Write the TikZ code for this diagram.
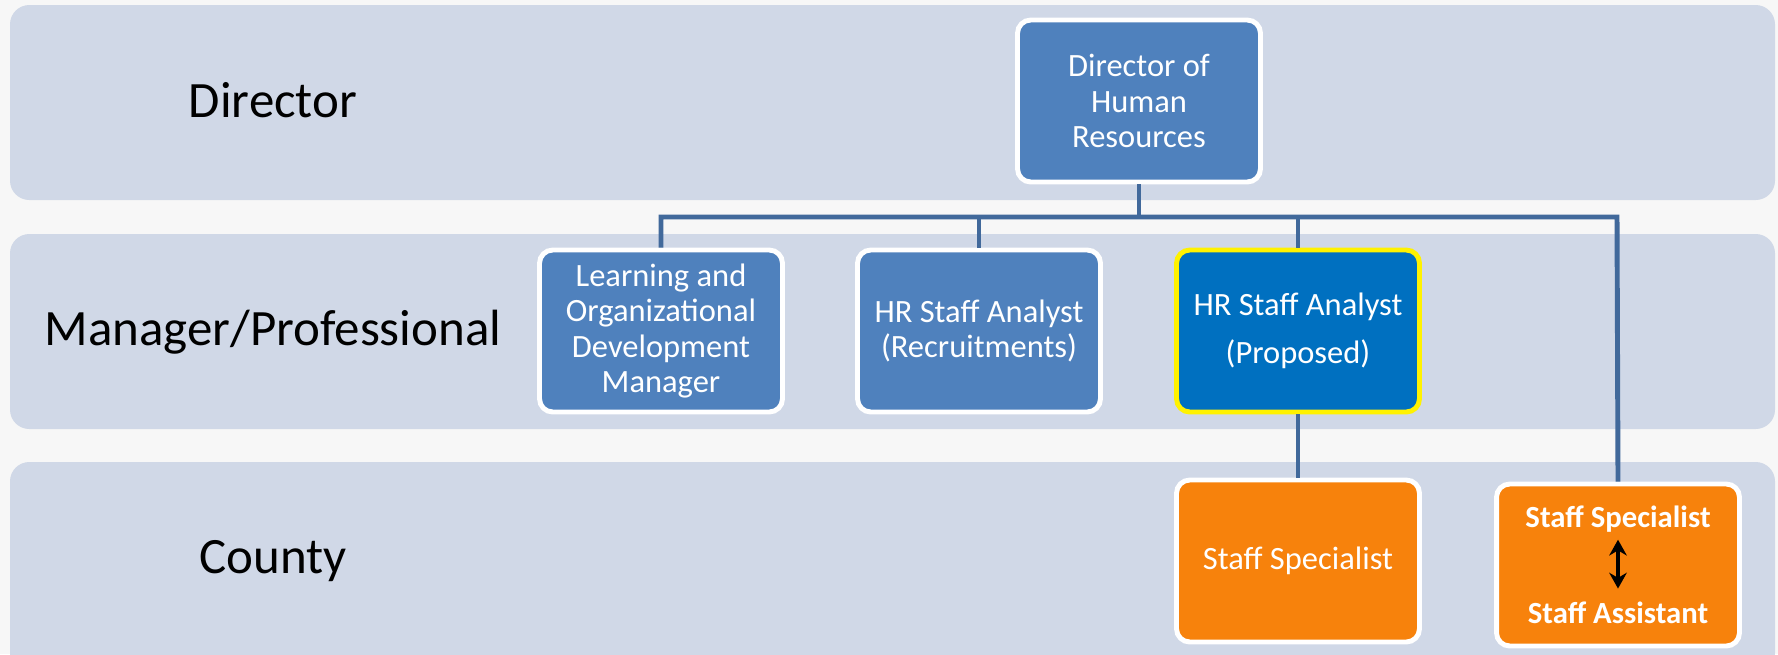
\documentclass[tikz,border=0pt]{standalone}
\usepackage{fontspec}
\setmainfont{Carlito}
\usetikzlibrary{arrows.meta}
\definecolor{fondBande}{HTML}{D0D8E7}
\definecolor{bleuPoste}{HTML}{4F81BD}
\definecolor{bleuPropose}{HTML}{0070C0}
\definecolor{orangeComte}{HTML}{F7820C}
\definecolor{bleuLien}{HTML}{41699B}

\begin{document}
\begin{tikzpicture}[x=0.02cm,y=-0.02cm,
  poste/.style={draw=white, line width=2.8pt, rounded corners=7.5pt, fill=bleuPoste,
    text=white, align=center, inner sep=0pt, minimum width=4.86cm, minimum height=3.24cm,
    font=\fontsize{18.5}{20}\selectfont},
  lien/.style={draw=bleuLien, line width=2.8pt},
  niveau/.style={font=\fontsize{29}{35}\selectfont, anchor=base},
  bandeau/.style={fill=fondBande, rounded corners=11pt}]
\def\bandeDir{(10,5) rectangle (1775,200)}
\def\bandeMan{(10,234) rectangle (1775,429)}
\def\bandeCty{(10,462) rectangle (1775,672)}
%
\useasboundingbox (0,0) rectangle (1778,654);
\clip (0,0) rectangle (1778,654);
\fill[black!3] (0,0) rectangle (1778,654);
\fill[bandeau] \bandeDir;
\fill[bandeau] \bandeMan;
\fill[bandeau] \bandeCty;
%
% Niveaux :
\node[niveau] (nivDir) at (273,117) {Director};
\node[niveau] (nivMan) at (273,345) {Manager/Professional};
\node[niveau] (nivCty) at (273,573) {County};
%
% Postes :
\node[poste] (dhr) at (1139,101) {Director of\\Human\\Resources};
\node[poste] (lod) at (661,331) {Learning and\\Organizational\\Development\\Manager};
\node[poste] (rec) at (979,331) {HR Staff Analyst\\(Recruitments)};
\node[poste, draw=yellow, fill=bleuPropose, font=\fontsize{18.5}{27}\selectfont] (prop) at (1298,331)
  {HR Staff Analyst\\(Proposed)};
\node[poste, draw=white, fill=orangeComte] (spec) at (1298,561) {Staff Specialist};
\node[poste, draw=white, fill=orangeComte] (assist) at (1618,565) {};
\node[anchor=base, text=white, inner sep=0pt, font=\bfseries\fontsize{17.5}{20}\selectfont]
  (specR) at (1618,527) {Staff Specialist};
\node[anchor=base, text=white, inner sep=0pt, font=\bfseries\fontsize{17.5}{20}\selectfont]
  (assistR) at (1618,623) {Staff Assistant};
%
% Liens :
\coordinate (busD) at (1617,217);
\draw[lien] (lod.north) |- (busD) -- (assist.north);
\draw[lien] (dhr.south) -- (dhr.south |- busD);
\draw[lien] (rec.north) -- (rec.north |- busD);
\draw[lien] (prop.north) -- (prop.north |- busD);
\draw[lien] (prop.south) -- (spec.north);
\draw[line width=2pt, {Stealth[length=9pt,width=10pt]}-{Stealth[length=9pt,width=10pt]},
  shorten <=1.5mm, shorten >=2.5mm] (specR.south) -- (assistR.north);
\end{tikzpicture}
\end{document}
